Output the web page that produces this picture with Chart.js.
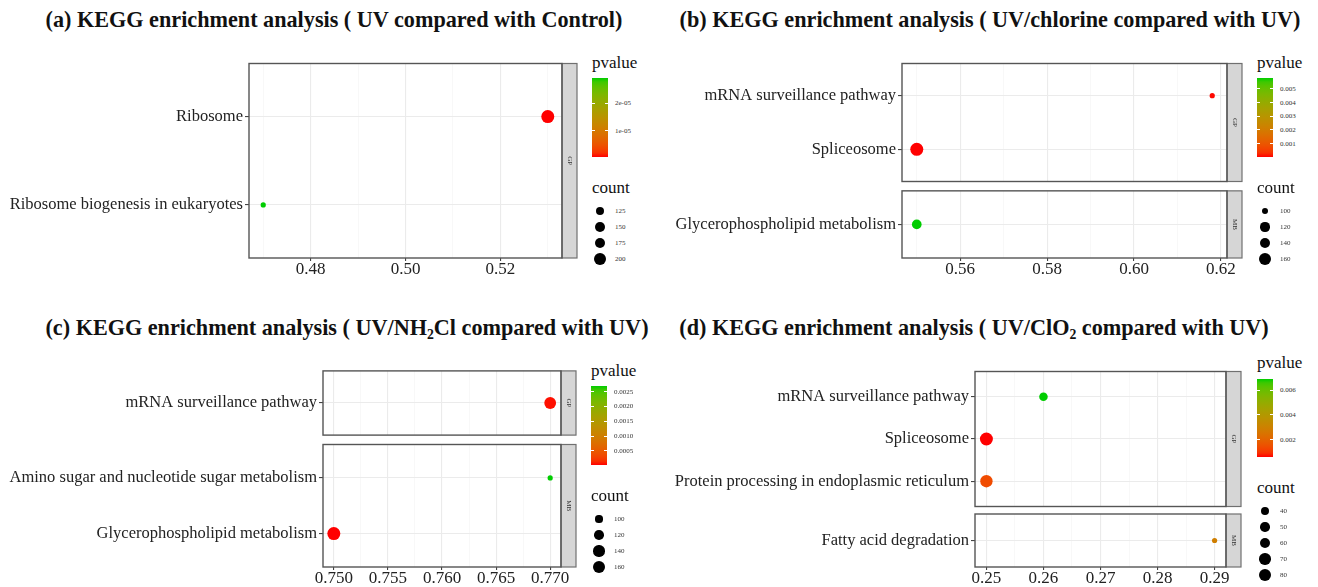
<!DOCTYPE html>
<html>
<head>
<meta charset="utf-8">
<script src="https://cdn.jsdelivr.net/npm/chart.js@4.4.0/dist/chart.umd.min.js"></script>
<style>
  body { margin: 0; background: #fff; }
  #page { position: relative; width: 1318px; height: 587px; overflow: hidden;
          font-family: 'Liberation Serif', 'DejaVu Serif', serif; color: #111; }
  #page canvas { position: absolute; }
  .title { position: absolute; font-weight: bold; font-size: 22.2px; white-space: nowrap;
           line-height: 1; transform: translate(-50%, -50%); }
  .title sub { font-size: 0.62em; vertical-align: -0.3em; line-height: 0; }
  .legtitle { position: absolute; font-size: 17px; line-height: 1; transform: translateY(-50%); white-space: nowrap; }
  .bar { position: absolute; width: 16px; }
  .tick { position: absolute; width: 3px; height: 1px; background: #fff; }
  .lab { position: absolute; font-size: 7px; line-height: 1; transform: translateY(-50%); color: #333; white-space: nowrap; }
  .dot { position: absolute; background: #000; border-radius: 50%; }
</style>
</head>
<body>
<div id="page"></div>
<script>
// (a) UV compared with Control
const titleA = '(a) KEGG enrichment analysis ( UV compared with Control)';
const termsA = ['Ribosome', 'Ribosome biogenesis in eukaryotes'];
const classA = ['GP', 'GP'];
const ratioA = [0.53, 0.47];
const pvalA = [6e-7, 2.9e-5];
const countA = [238, 102];
const xTicksA = [0.48, 0.50, 0.52];
const pBreaksA = [1e-5, 2e-5];
const pLabelsA = ['1e-05', '2e-05'];
const countBreaksA = [125, 150, 175, 200];

// (b) UV/chlorine compared with UV
const titleB = '(b) KEGG enrichment analysis ( UV/chlorine compared with UV)';
const termsB = ['mRNA surveillance pathway', 'Spliceosome', 'Glycerophospholipid metabolism'];
const classB = ['GP', 'GP', 'MB'];
const ratioB = [0.618, 0.55, 0.55];
const pvalB = [4e-5, 1.5e-5, 0.0058];
const countB = [96, 180, 124];
const xTicksB = [0.56, 0.58, 0.60, 0.62];
const pBreaksB = [0.001, 0.002, 0.003, 0.004, 0.005];
const pLabelsB = ['0.001', '0.002', '0.003', '0.004', '0.005'];
const countBreaksB = [100, 120, 140, 160];

// (c) UV/NH2Cl compared with UV
const titleC = '(c) KEGG enrichment analysis ( UV/NH<sub>2</sub>Cl compared with UV)';
const termsC = ['mRNA surveillance pathway', 'Amino sugar and nucleotide sugar metabolism', 'Glycerophospholipid metabolism'];
const classC = ['GP', 'MB', 'MB'];
const ratioC = [0.77, 0.77, 0.75];
const pvalC = [5e-5, 0.00269, 2.7e-5];
const countC = [150, 95, 172];
const xTicksC = [0.750, 0.755, 0.760, 0.765, 0.770];
const pBreaksC = [0.0005, 0.0010, 0.0015, 0.0020, 0.0025];
const pLabelsC = ['0.0005', '0.0010', '0.0015', '0.0020', '0.0025'];
const countBreaksC = [100, 120, 140, 160];

// (d) UV/ClO2 compared with UV
const titleD = '(d) KEGG enrichment analysis ( UV/ClO<sub>2</sub> compared with UV)';
const termsD = ['mRNA surveillance pathway', 'Spliceosome', 'Protein processing in endoplasmic reticulum', 'Fatty acid degradation'];
const classD = ['GP', 'GP', 'GP', 'MB'];
const ratioD = [0.26, 0.25, 0.25, 0.29];
const pvalD = [0.0069, 0.0006, 0.0014, 0.0029];
const countD = [44, 88, 80, 34];
const xTicksD = [0.25, 0.26, 0.27, 0.28, 0.29];
const pBreaksD = [0.002, 0.004, 0.006];
const pLabelsD = ['0.002', '0.004', '0.006'];
const countBreaksD = [40, 50, 60, 70, 80];

// page geometry for each panel
const layoutA = { ox: 0, titleX: 334, titleY: 20, left: 249, right: 562, facets: { GP: [61, 258] },
  legend: { x: 592, pTitleY: 62, barTop: 78, barBot: 157, cTitleY: 187, dotY: 211 } };
const layoutB = { ox: 660, titleX: 990, titleY: 20, left: 902, right: 1227, facets: { GP: [61, 184], MB: [190, 258] },
  legend: { x: 1257, pTitleY: 62, barTop: 78, barBot: 157, cTitleY: 187, dotY: 211 } };
const layoutC = { ox: 0, titleX: 347, titleY: 328, left: 323, right: 561, facets: { GP: [369, 437], MB: [442, 567] },
  legend: { x: 591, pTitleY: 370, barTop: 386, barBot: 465, cTitleY: 495, dotY: 519 } };
const layoutD = { ox: 660, titleX: 974, titleY: 328, left: 975, right: 1226, facets: { GP: [369, 509], MB: [514, 567] },
  legend: { x: 1257, pTitleY: 362, barTop: 379, barBot: 457, cTitleY: 487, dotY: 511 } };

const panels = [
  { title: titleA, terms: termsA, classes: classA, ratio: ratioA, pval: pvalA, count: countA, xTicks: xTicksA, digits: 2,
    pBreaks: pBreaksA, pLabels: pLabelsA, cBreaks: countBreaksA, lay: layoutA },
  { title: titleB, terms: termsB, classes: classB, ratio: ratioB, pval: pvalB, count: countB, xTicks: xTicksB, digits: 2,
    pBreaks: pBreaksB, pLabels: pLabelsB, cBreaks: countBreaksB, lay: layoutB },
  { title: titleC, terms: termsC, classes: classC, ratio: ratioC, pval: pvalC, count: countC, xTicks: xTicksC, digits: 3,
    pBreaks: pBreaksC, pLabels: pLabelsC, cBreaks: countBreaksC, lay: layoutC },
  { title: titleD, terms: termsD, classes: classD, ratio: ratioD, pval: pvalD, count: countD, xTicks: xTicksD, digits: 2,
    pBreaks: pBreaksD, pLabels: pLabelsD, cBreaks: countBreaksD, lay: layoutD }
];

const SERIF = '"Liberation Serif", "DejaVu Serif", serif';
const STRIP_W = 15;
const R_MIN = 2.6, R_MAX = 6.5;
const COLOR_LOW = [255, 0, 0];
const COLOR_HIGH = [0, 205, 0];
const page = document.getElementById('page');

// red -> green ramp interpolated in Lab space
const WHITE = [0.95047, 1, 1.08883];
function lin(c) { c /= 255; return c <= 0.04045 ? c / 12.92 : Math.pow((c + 0.055) / 1.055, 2.4); }
function gam(c) {
  const v = c <= 0.0031308 ? 12.92 * c : 1.055 * Math.pow(c, 1 / 2.4) - 0.055;
  return Math.round(Math.min(1, Math.max(0, v)) * 255);
}
function toLab(rgb) {
  const [r, g, b] = rgb.map(lin);
  const xyz = [0.4124 * r + 0.3576 * g + 0.1805 * b, 0.2126 * r + 0.7152 * g + 0.0722 * b, 0.0193 * r + 0.1192 * g + 0.9505 * b];
  const f = xyz.map((v, i) => { const t = v / WHITE[i]; return t > 0.008856 ? Math.cbrt(t) : 7.787 * t + 16 / 116; });
  return [116 * f[1] - 16, 500 * (f[0] - f[1]), 200 * (f[1] - f[2])];
}
function fromLab(lab) {
  const fy = (lab[0] + 16) / 116, fx = fy + lab[1] / 500, fz = fy - lab[2] / 200;
  const [x, y, z] = [fx, fy, fz].map((f, i) => { const c = f * f * f; return (c > 0.008856 ? c : (f - 16 / 116) / 7.787) * WHITE[i]; });
  return [3.2406 * x - 1.5372 * y - 0.4986 * z, -0.9689 * x + 1.8758 * y + 0.0415 * z, 0.0557 * x - 0.2040 * y + 1.0570 * z].map(gam);
}
const LAB_LOW = toLab(COLOR_LOW), LAB_HIGH = toLab(COLOR_HIGH);
function gradientColor(t) {
  const c = fromLab(LAB_LOW.map((v, i) => v + (LAB_HIGH[i] - v) * t));
  return 'rgb(' + c.join(',') + ')';
}

// point radius grows with sqrt of the count (area scale)
function sizeScale(counts) {
  const lo = Math.min(...counts), hi = Math.max(...counts);
  return c => R_MIN + (R_MAX - R_MIN) * Math.sqrt(Math.max(0, (c - lo) / (hi - lo)));
}

function addEl(cls, x, y, html) {
  const el = document.createElement('div');
  el.className = cls;
  el.style.left = x + 'px';
  el.style.top = y + 'px';
  if (html !== undefined) el.innerHTML = html;
  page.appendChild(el);
  return el;
}

// keep the axes from asking for extra room around the plot area
function noOverflow(s) {
  s.paddingTop = 0; s.paddingBottom = 0; s.paddingLeft = 0; s.paddingRight = 0;
}

// panel border plus the grey facet strip on the right
function panelFrame(label) {
  return {
    id: 'panelFrame',
    afterDatasetsDraw(chart) {
      const { ctx, chartArea: a } = chart;
      const h = a.bottom - a.top;
      ctx.save();
      ctx.fillStyle = '#d6d6d6';
      ctx.fillRect(a.right, a.top, STRIP_W, h);
      ctx.strokeStyle = '#707070';
      ctx.lineWidth = 1.2;
      ctx.strokeRect(a.right, a.top, STRIP_W, h);
      ctx.strokeStyle = '#555';
      ctx.lineWidth = 1.4;
      ctx.strokeRect(a.left, a.top, a.right - a.left, h);
      ctx.translate(a.right + STRIP_W / 2, a.top + h / 2);
      ctx.rotate(Math.PI / 2);
      ctx.fillStyle = '#333';
      ctx.font = '7px ' + SERIF;
      ctx.textAlign = 'center';
      ctx.textBaseline = 'middle';
      ctx.fillText(label, 0, 0);
      ctx.restore();
    }
  };
}

function drawFacet(p, cls, box, showX) {
  const L = p.lay;
  const rows = p.terms.map((t, i) => i).filter(i => p.classes[i] === cls);
  const labels = rows.map(i => p.terms[i]);
  const lo = Math.min(...p.ratio), hi = Math.max(...p.ratio);
  const xMin = lo - 0.05 * (hi - lo), xMax = hi + 0.05 * (hi - lo);
  const pLo = Math.min(...p.pval), pHi = Math.max(...p.pval);
  const size = sizeScale(p.count);

  // major ticks from the list, minor ones halfway between
  const minor = (p.xTicks[1] - p.xTicks[0]) / 2;
  const xVals = [];
  for (let k = Math.ceil(xMin / minor - 1e-9); k <= Math.floor(xMax / minor + 1e-9); k++) {
    xVals.push(Math.round(k * minor * 1e6) / 1e6);
  }
  const isMajor = v => p.xTicks.some(m => Math.abs(m - v) < 1e-9);

  const xAxisH = showX ? 26 : 0;
  const top = box[0] - 4;
  const width = L.right + STRIP_W + 3 - L.ox;
  const height = box[1] - top + xAxisH + 4;
  const canvas = document.createElement('canvas');
  canvas.width = width;
  canvas.height = height;
  canvas.style.left = L.ox + 'px';
  canvas.style.top = top + 'px';
  page.appendChild(canvas);

  new Chart(canvas, {
    type: 'bubble',
    data: {
      datasets: [{
        data: rows.map((i, k) => ({ x: p.ratio[i], y: k, r: size(p.count[i]) })),
        backgroundColor: rows.map(i => gradientColor((p.pval[i] - pLo) / (pHi - pLo))),
        borderWidth: 0,
        clip: false
      }]
    },
    options: {
      responsive: false,
      animation: false,
      events: [],
      layout: { padding: { left: 0, top: 4, right: STRIP_W + 3, bottom: 4 } },
      plugins: { legend: { display: false }, tooltip: { enabled: false } },
      scales: {
        x: {
          type: 'linear', min: xMin, max: xMax,
          afterBuildTicks: s => { s.ticks = xVals.map(v => ({ value: v })); },
          afterFit: s => { s.height = xAxisH; noOverflow(s); },
          border: { display: false },
          grid: {
            color: c => isMajor(c.tick.value) ? '#ebebeb' : '#f3f3f3',
            lineWidth: c => isMajor(c.tick.value) ? 1.1 : 0.6,
            drawTicks: showX, tickLength: 3,
            tickColor: c => isMajor(c.tick.value) ? '#444' : 'rgba(0,0,0,0)'
          },
          ticks: {
            display: showX, autoSkip: false, maxRotation: 0, padding: -2,
            color: '#222', font: { family: SERIF, size: 17 },
            callback: v => isMajor(v) ? v.toFixed(p.digits) : ''
          }
        },
        y: {
          type: 'linear', reverse: true, min: -0.6, max: rows.length - 0.4,
          afterBuildTicks: s => { s.ticks = rows.map((r, k) => ({ value: k })); },
          afterFit: s => { s.width = L.left - L.ox; noOverflow(s); },
          border: { display: false },
          grid: { color: '#ebebeb', lineWidth: 1.1, tickLength: 4, tickColor: '#444' },
          ticks: {
            autoSkip: false, padding: 2, color: '#222', font: { family: SERIF, size: 16.5 },
            callback: v => labels[v]
          }
        }
      }
    },
    plugins: [panelFrame(cls)]
  });
}

function drawLegend(p) {
  const g = p.lay.legend;
  const pLo = Math.min(...p.pval), pHi = Math.max(...p.pval);
  const size = sizeScale(p.count);
  addEl('legtitle', g.x, g.pTitleY, 'pvalue');

  const stops = [];
  for (let i = 0; i <= 20; i++) stops.push(gradientColor(i / 20) + ' ' + (i * 5) + '%');
  const bar = addEl('bar', g.x, g.barTop);
  bar.style.height = (g.barBot - g.barTop) + 'px';
  bar.style.background = 'linear-gradient(to top, ' + stops.join(', ') + ')';

  p.pBreaks.forEach((b, i) => {
    const y = g.barBot - (b - pLo) / (pHi - pLo) * (g.barBot - g.barTop);
    addEl('tick', g.x, y - 0.5);
    addEl('tick', g.x + 13, y - 0.5);
    addEl('lab', g.x + 23, y, p.pLabels[i]);
  });

  addEl('legtitle', g.x, g.cTitleY, 'count');
  p.cBreaks.forEach((c, i) => {
    const r = size(c);
    const y = g.dotY + 16 * i;
    const d = addEl('dot', g.x + 8 - r, y - r);
    d.style.width = d.style.height = (2 * r) + 'px';
    addEl('lab', g.x + 23, y, String(c));
  });
}

for (const p of panels) {
  addEl('title', p.lay.titleX, p.lay.titleY, p.title);
  const facetNames = Object.keys(p.lay.facets);
  facetNames.forEach((cls, k) => drawFacet(p, cls, p.lay.facets[cls], k === facetNames.length - 1));
  drawLegend(p);
}
</script>
</body>
</html>
